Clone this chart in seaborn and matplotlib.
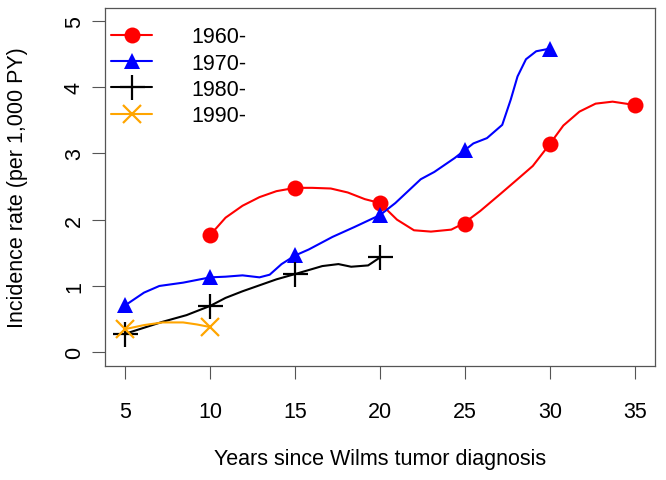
import pandas as pd
import matplotlib.pyplot as plt
import seaborn as sns
from matplotlib.lines import Line2D

# observed rates at 5-year marks
years_1960 = [10, 15, 20, 25, 30, 35]
rate_1960 = [1.77, 2.48, 2.25, 1.94, 3.14, 3.73]
years_1970 = [5, 10, 15, 20, 25, 30]
rate_1970 = [0.71, 1.13, 1.46, 2.07, 3.05, 4.58]
years_1980 = [5, 10, 15, 20]
rate_1980 = [0.28, 0.70, 1.18, 1.43]
years_1990 = [5, 10]
rate_1990 = [0.35, 0.38]

# smoothed curves
curve_x_1960 = [10, 10.9, 11.9, 12.9, 13.9, 15, 16.0, 17.1, 18.1, 19.1, 20, 21.0, 22.0, 23.0, 24.2, 24.9,
                25.9, 27.1, 28.1, 29.0, 30, 30.8, 31.75, 32.7, 33.7, 35]
curve_y_1960 = [1.77, 2.03, 2.21, 2.34, 2.43, 2.48, 2.48, 2.47, 2.41, 2.31, 2.25, 2.0, 1.84, 1.82, 1.85, 1.94,
                2.13, 2.39, 2.61, 2.81, 3.14, 3.42, 3.63, 3.75, 3.78, 3.73]
curve_x_1970 = [5, 6.1, 7.0, 8.4, 9.2, 10, 10.9, 11.9, 12.9, 13.5, 14.2, 15, 15.8, 17.2, 18.5, 20,
                20.9, 22.4, 23.2, 24.4, 25, 25.5, 26.3, 27.2, 27.7, 28.1, 28.6, 29.2, 30]
curve_y_1970 = [0.71, 0.90, 1.00, 1.05, 1.09, 1.13, 1.14, 1.16, 1.13, 1.17, 1.33, 1.46, 1.55, 1.74, 1.89, 2.07,
                2.25, 2.61, 2.72, 2.93, 3.05, 3.15, 3.23, 3.43, 3.81, 4.16, 4.42, 4.54, 4.58]
curve_x_1980 = [5, 6.1, 7.2, 8.6, 10, 10.9, 11.9, 12.9, 13.9, 15, 15.8, 16.6, 17.55, 18.3, 19.3, 20]
curve_y_1980 = [0.28, 0.37, 0.46, 0.56, 0.70, 0.82, 0.92, 1.01, 1.10, 1.18, 1.24, 1.30, 1.33, 1.29, 1.31, 1.43]
curve_x_1990 = [5, 6.1, 7.2, 8.4, 9.2, 10]
curve_y_1990 = [0.35, 0.41, 0.45, 0.45, 0.42, 0.38]

cohorts = ['1960-', '1970-', '1980-', '1990-']
colors = ['#FF0000', '#0000FF', '#000000', '#FFA500']
markers = ['o', '^', '+', 'x']
msizes = [11.5, 12, 18, 13]

curves = pd.concat([
    pd.DataFrame({'year': curve_x_1960, 'rate': curve_y_1960, 'cohort': '1960-'}),
    pd.DataFrame({'year': curve_x_1970, 'rate': curve_y_1970, 'cohort': '1970-'}),
    pd.DataFrame({'year': curve_x_1980, 'rate': curve_y_1980, 'cohort': '1980-'}),
    pd.DataFrame({'year': curve_x_1990, 'rate': curve_y_1990, 'cohort': '1990-'}),
])
points = pd.concat([
    pd.DataFrame({'year': years_1960, 'rate': rate_1960, 'cohort': '1960-'}),
    pd.DataFrame({'year': years_1970, 'rate': rate_1970, 'cohort': '1970-'}),
    pd.DataFrame({'year': years_1980, 'rate': rate_1980, 'cohort': '1980-'}),
    pd.DataFrame({'year': years_1990, 'rate': rate_1990, 'cohort': '1990-'}),
])

sns.set_style('white')
plt.rcParams['font.family'] = ['Liberation Sans', 'DejaVu Sans']
plt.rcParams['text.color'] = 'black'
plt.rcParams['xtick.color'] = 'black'
plt.rcParams['ytick.color'] = 'black'
plt.rcParams['axes.labelcolor'] = 'black'

fig = plt.figure(figsize=(6.66, 4.81), dpi=100)
ax = fig.add_axes([0.1577, 0.238, 0.8258, 0.7443])

sns.lineplot(data=curves, x='year', y='rate', hue='cohort', palette=dict(zip(cohorts, colors)),
             estimator=None, sort=True, linewidth=1.5, legend=False, ax=ax)
for c, col, m, ms in zip(cohorts, colors, markers, msizes):
    d = points[points['cohort'] == c]
    ax.plot(d['year'], d['rate'], linestyle='none', marker=m, color=col, markersize=ms,
            markeredgewidth=1.6 if m in '+x' else 0)

ax.set_xlim(3.8, 36.2)
ax.set_ylim(-0.2, 5.2)
ax.set_xticks([5, 10, 15, 20, 25, 30, 35])
ax.set_yticks([0, 1, 2, 3, 4, 5])
ax.tick_params(axis='both', direction='out', length=9.5, width=0.8, color='#555555',
               labelsize=15.5, bottom=True, left=True)
ax.tick_params(axis='x', pad=16)
ax.tick_params(axis='y', pad=5)
plt.setp(ax.get_yticklabels(), rotation=90, va='center')
for s in ax.spines.values():
    s.set_color('#555555')
    s.set_linewidth(0.9)

ax.set_xlabel('Years since Wilms tumor diagnosis', fontsize=15.5)
ax.set_ylabel('Incidence rate (per 1,000 PY)', fontsize=15.5)
ax.xaxis.set_label_coords(0.5, -0.261)
ax.yaxis.set_label_coords(-0.159, 0.5)
ax.xaxis.label.set_va('center')
ax.yaxis.label.set_va('center')

handles = [Line2D([], [], color=col, marker=m, markersize=ms, linewidth=1.5,
                  markeredgewidth=1.6 if m in '+x' else 0)
           for col, m, ms in zip(colors, markers, msizes)]
ax.legend(handles, cohorts, loc='upper left', frameon=False, fontsize=15.5,
          handlelength=1.9, handletextpad=1.8, labelspacing=0.25,
          bbox_to_anchor=(-0.016, 0.99), borderaxespad=0.3)

plt.savefig('out.png', dpi=100)
